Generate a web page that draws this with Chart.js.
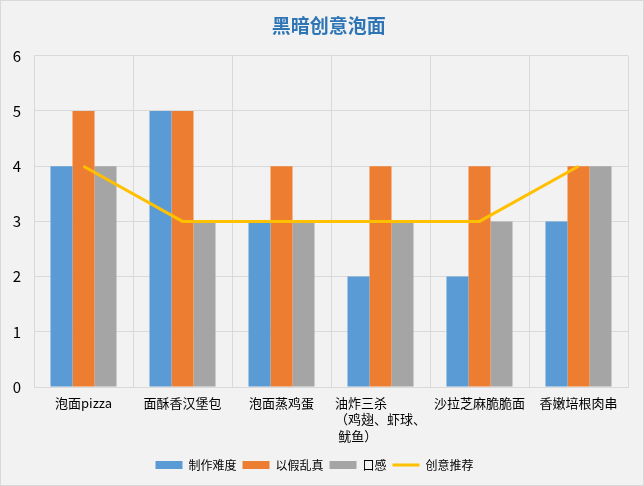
<!DOCTYPE html>
<html>
<head>
<meta charset="utf-8">
<script src="https://cdn.jsdelivr.net/npm/chart.js@4/dist/chart.umd.min.js"></script>
<style>
    html, body { margin: 0; padding: 0; background: #f2f2f2; }
    #wrap { width: 642px; height: 484px; border: 1px solid #d9d9d9; background: #f2f2f2; }
</style>
</head>
<body>
<div id="wrap"><canvas id="chart" width="642" height="484"></canvas></div>
<script>
// ===============================
// 数据
// ===============================
const categories = [
    '泡面pizza',
    '面酥香汉堡包',
    '泡面蒸鸡蛋',
    ['油炸三杀　　　', '（鸡翅、虾球、', '鱿鱼）　　　　'],
    '沙拉芝麻脆脆面',
    '香嫩培根肉串'
];
const difficulty = [4, 5, 3, 2, 2, 3];   // 制作难度
const realism    = [5, 5, 4, 4, 4, 4];   // 以假乱真
const taste      = [4, 3, 3, 3, 3, 4];   // 口感
const recommend  = [4, 3, 3, 3, 3, 4];   // 创意推荐
const yTicks = [0, 1, 2, 3, 4, 5, 6];

const FONT = '"Noto Sans CJK SC", "Noto Sans", sans-serif';

new Chart(document.getElementById('chart'), {
    type: 'bar',
    data: {
        labels: categories,
        datasets: [
            {
                type: 'line',
                label: '创意推荐',
                data: recommend,
                borderColor: '#ffc000',
                backgroundColor: '#ffc000',
                borderWidth: 3,
                pointRadius: 0,
                pointStyle: 'line',
                tension: 0,
                order: 0
            },
            { label: '制作难度', data: difficulty, backgroundColor: '#5b9bd5', pointStyle: 'rect', order: 1 },
            { label: '以假乱真', data: realism, backgroundColor: '#ed7d31', pointStyle: 'rect', order: 1 },
            { label: '口感', data: taste, backgroundColor: '#a5a5a5', pointStyle: 'rect', order: 1 }
        ]
    },
    options: {
        responsive: false,
        animation: false,
        layout: { padding: { left: 0, right: 15, top: 0, bottom: 4 } },
        datasets: {
            bar: { categoryPercentage: 0.667, barPercentage: 1, borderWidth: 0 }
        },
        plugins: {
            title: {
                display: true,
                text: '\u3000\u2002黑暗创意泡面',
                color: '#2e75b6',
                font: { family: FONT, size: 19, weight: 'bold' },
                padding: { top: 13, bottom: 19 }
            },
            legend: {
                position: 'bottom',
                labels: {
                    usePointStyle: true,
                    pointStyleWidth: 27,
                    boxHeight: 8,
                    padding: 6,
                    color: '#000',
                    font: { family: FONT, size: 12 },
                    sort: (a, b) => {
                        const rank = ['制作难度', '以假乱真', '口感', '创意推荐'];
                        return rank.indexOf(a.text) - rank.indexOf(b.text);
                    }
                }
            },
            tooltip: { enabled: false }
        },
        scales: {
            x: {
                grid: { color: '#d9d9d9', drawTicks: false },
                border: { color: '#d9d9d9' },
                ticks: {
                    color: '#000',
                    font: { family: FONT, size: 13, lineHeight: 1.25 },
                    padding: 8,
                    maxRotation: 0,
                    autoSkip: false
                },
                afterFit: s => { s.height = 66; }
            },
            y: {
                min: 0,
                max: 6,
                grid: { color: '#d9d9d9', drawTicks: false },
                border: { color: '#d9d9d9' },
                afterBuildTicks: s => { s.ticks = yTicks.map(v => ({ value: v })); },
                ticks: {
                    color: '#000',
                    font: { family: FONT, size: 15 },
                    padding: 13
                },
                afterFit: s => { s.width = 33; }
            }
        }
    }
});
</script>
</body>
</html>
